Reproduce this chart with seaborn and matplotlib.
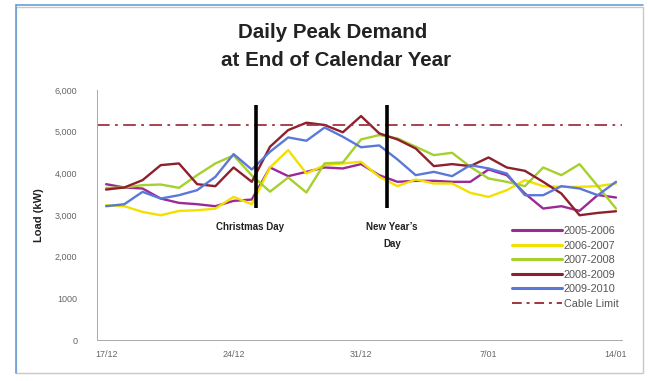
import matplotlib
matplotlib.use("Agg")
import matplotlib.pyplot as plt
import matplotlib.patches as mpatches
import numpy as np
import pandas as pd
import seaborn as sns

# Daily peak load (kW), one value per day from 17 Dec to 14 Jan
days = list(range(29))
tick_days = [0, 7, 14, 21, 28]
tick_labels = ["17/12", "24/12", "31/12", "7/01", "14/01"]

load_2005_2006 = [3740, 3660, 3636, 3395, 3291, 3259, 3211, 3339, 3371, 4141, 3932, 4036,
                  4141, 4117, 4221, 3956, 3796, 3820, 3820, 3796, 3796, 4093, 3956, 3515,
                  3155, 3211, 3100, 3480, 3420]
load_2006_2007 = [3235, 3211, 3074, 2994, 3098, 3114, 3154, 3435, 3259, 4141, 4558, 3996,
                  4197, 4237, 4277, 3916, 3692, 3852, 3756, 3756, 3532, 3435, 3596, 3836,
                  3692, 3676, 3676, 3692, 3756]
load_2007_2008 = [3650, 3660, 3716, 3732, 3652, 3956, 4237, 4430, 3950, 3560, 3900, 3540,
                  4240, 4260, 4814, 4918, 4838, 4638, 4437, 4493, 4157, 3876, 3796, 3692,
                  4141, 3956, 4221, 3692, 3155]
load_2008_2009 = [3611, 3660, 3836, 4197, 4237, 3740, 3692, 4141, 3796, 4638, 5038, 5215,
                  5160, 4985, 5375, 4958, 4814, 4597, 4173, 4221, 4173, 4381, 4141, 4060,
                  3796, 3515, 2994, 3050, 3090]
load_2009_2010 = [3211, 3259, 3555, 3395, 3475, 3596, 3916, 4461, 4092, 4517, 4862, 4782,
                  5100, 4878, 4626, 4670, 4333, 3956, 4036, 3932, 4197, 4117, 3996, 3475,
                  3475, 3692, 3636, 3475, 3796]

season_names = ["2005-2006", "2006-2007", "2007-2008", "2008-2009", "2009-2010"]
season_colors = ["#9C2A96", "#F2E000", "#A6D02C", "#8E1F2C", "#5A78D8"]
cable_limit = 5150
cable_color = "#A3343F"

y_ticks = [0, 1000, 2000, 3000, 4000, 5000, 6000]
y_tick_labels = ["0", "1000", "2,000", "3,000", "4,000", "5,000", "6,000"]

christmas_day = 8.25
new_years_day = 15.4
marker_bottom, marker_top = 3160, 5640

frames = []
for name, values in zip(season_names, [load_2005_2006, load_2006_2007, load_2007_2008,
                                         load_2008_2009, load_2009_2010]):
    frames.append(pd.DataFrame({"day": days, "load": values, "season": name}))
df = pd.concat(frames, ignore_index=True)

sns.set_theme(style="white")
plt.rcParams["font.family"] = ["Liberation Sans", "DejaVu Sans"]

fig = plt.figure(figsize=(6.48, 3.81), dpi=100)
fig.patch.set_facecolor("white")

# outer chart frame
fig.add_artist(mpatches.Rectangle((16 / 648, 8 / 381), 627 / 648, 366 / 381,
                                  transform=fig.transFigure, fill=False,
                                  edgecolor="#C8C8C8", linewidth=1.0))
fig.add_artist(plt.Line2D([16 / 648, 643 / 648], [1 - 5 / 381, 1 - 5 / 381],
                          transform=fig.transFigure, color="#6A9FD8", linewidth=1.2))
fig.add_artist(plt.Line2D([16 / 648, 16 / 648], [8 / 381, 1 - 5 / 381],
                          transform=fig.transFigure, color="#6A9FD8", linewidth=1.2))

ax = fig.add_axes([97 / 648, 1 - 340 / 381, 525 / 648, 250 / 381])
ax.set_facecolor("none")

sns.lineplot(data=df, x="day", y="load", hue="season", hue_order=season_names,
             palette=season_colors, linewidth=1.7, legend=False, ax=ax, sort=False)

ax.axhline(cable_limit, color=cable_color, linewidth=1.3, linestyle=(0, (7, 3, 1.5, 3)))

for d in (christmas_day, new_years_day):
    ax.plot([d, d], [marker_bottom, marker_top], color="black", linewidth=2.6,
            solid_capstyle="butt")

ax.text(christmas_day - 0.35, 2720, "Christmas Day", ha="center", va="center",
        fontsize=7, fontweight="bold", color="#222222")
ax.text(new_years_day + 0.3, 2720, "New Year\u2019s", ha="center", va="center",
        fontsize=7, fontweight="bold", color="#222222")
ax.text(new_years_day + 0.3, 2310, "Day", ha="center", va="center",
        fontsize=7, fontweight="bold", color="#222222")

ax.set_xlim(-0.5, 28.33)
ax.set_ylim(0, 6000)
ax.set_xticks(tick_days)
ax.set_xticklabels(tick_labels)
ax.set_yticks(y_ticks)
ax.set_yticklabels(y_tick_labels)
ax.tick_params(axis="both", labelsize=6.5, colors="#666666", length=3, width=0.6,
               direction="out")
ax.tick_params(axis="x", pad=4)
ax.tick_params(axis="y", pad=11)
ax.set_xlabel("")
ax.set_ylabel("Load (kW)", fontsize=8, fontweight="bold", color="#222222", labelpad=8)

for side in ("top", "right"):
    ax.spines[side].set_visible(False)
for side in ("left", "bottom"):
    ax.spines[side].set_color("#AAAAAA")
    ax.spines[side].set_linewidth(0.7)

handles = [plt.Line2D([], [], color=c, linewidth=2.2) for c in season_colors]
handles.append(plt.Line2D([], [], color=cable_color, linewidth=1.4,
                          linestyle=(0, (5, 2.5, 1.5, 2.5))))
labels = season_names + ["Cable Limit"]
fig.legend(handles, labels, loc="upper left", bbox_to_anchor=(512 / 648, 1 - 226 / 381),
           frameon=False, fontsize=7.8, handlelength=4.6, handletextpad=0.2,
           labelspacing=0.42, borderaxespad=0, borderpad=0, labelcolor="#555555")

fig.text(333 / 648, 1 - 32 / 381, "Daily Peak Demand", ha="center", va="center",
         fontsize=14.8, fontweight="bold", color="#222222")
fig.text(336 / 648, 1 - 60 / 381, "at End of Calendar Year", ha="center", va="center",
         fontsize=14.8, fontweight="bold", color="#222222")

fig.savefig("out.png", dpi=100, facecolor="white")
